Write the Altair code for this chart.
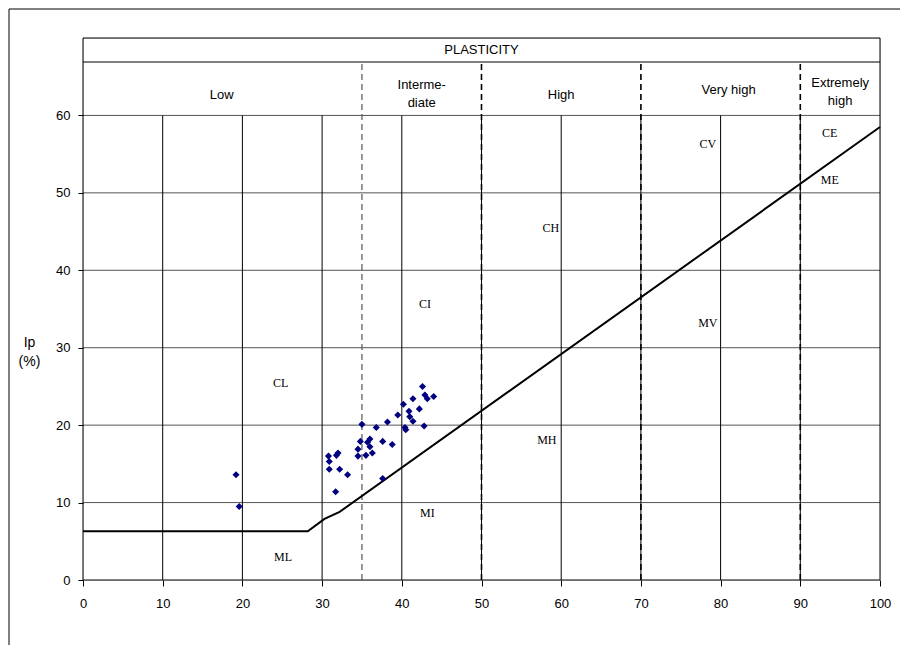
import altair as alt
import pandas as pd

# Scatter data: liquid limit wL (%) and plasticity index Ip (%)
wl = [42.6, 41.4, 42.9, 43.2, 44.0, 40.2, 42.2, 40.9, 39.5, 41.0, 41.4, 38.2,
      35.0, 36.8, 40.4, 40.5, 42.8, 36.0, 34.8, 37.6, 38.8, 35.7, 36.0, 34.5,
      36.3, 35.5, 34.5, 32.0, 30.8, 31.8, 30.9, 30.9, 32.2, 33.2, 37.6, 31.7,
      19.2, 19.6]
ip = [25.0, 23.4, 23.9, 23.4, 23.7, 22.7, 22.1, 21.8, 21.3, 21.1, 20.5, 20.4,
      20.1, 19.7, 19.7, 19.4, 19.9, 18.2, 17.9, 17.9, 17.5, 17.8, 17.2, 16.9,
      16.4, 16.1, 16.0, 16.4, 16.0, 16.1, 15.3, 14.3, 14.3, 13.6, 13.1, 11.4,
      13.6, 9.5]

# A-line
line_x = [0, 28.2, 30.3, 32.2, 100]
line_y = [6.3, 6.3, 7.9, 8.8, 58.5]

# Zone codes
zone_codes = ["CL", "CI", "CH", "CV", "CE", "ML", "MI", "MH", "MV", "ME"]
zone_x = [24.8, 42.9, 58.7, 78.4, 93.7, 25.1, 43.2, 58.2, 78.4, 93.7]
zone_y = [25.4, 35.7, 45.4, 56.3, 57.7, 3.0, 8.6, 18.1, 33.2, 51.6]

# Plasticity bands (header)
band_names = ["Low", "Interme-\ndiate", "High", "Very high", "Extremely\nhigh"]
band_x = [17.4, 42.5, 60.0, 81.0, 95.0]
band_y = [62.7, 63.9, 62.7, 63.3, 64.2]
header_title = ["PLASTICITY"]

# Grid / boundaries
grid_v_solid = [10, 20, 30, 40, 50, 60, 70, 80, 90]
grid_h = [10, 20, 30, 40, 50, 60]
bound_black = [50, 70, 90]
bound_gray = [35]

FONT = "Liberation Sans"
SERIF = "Liberation Serif"

xs = alt.Scale(domain=[0, 100], nice=False, zero=False)
ys = alt.Scale(domain=[0, 70], nice=False, zero=False)

pts = pd.DataFrame({"wL": wl, "Ip": ip})
line_df = pd.DataFrame({"wL": line_x, "Ip": line_y, "o": list(range(len(line_x)))})
zones = pd.DataFrame({"x": zone_x, "y": zone_y, "t": zone_codes})
bands = pd.DataFrame({"x": band_x, "y": band_y, "t": band_names})
vgrid = pd.DataFrame({"x": grid_v_solid, "y0": [0] * len(grid_v_solid), "y1": [60] * len(grid_v_solid)})
hgrid = pd.DataFrame({"y": grid_h, "x0": [0] * len(grid_h), "x1": [100] * len(grid_h)})
bb = pd.DataFrame({"x": bound_black, "y0": [0] * 3, "y1": [66.9] * 3})
bg = pd.DataFrame({"x": bound_gray, "y0": [0], "y1": [66.9]})
hlines = pd.DataFrame({"y": [0, 66.9, 70], "x0": [0, 0, 0], "x1": [100, 100, 100]})
vlines = pd.DataFrame({"x": [0, 100], "y0": [0, 0], "y1": [70, 70]})
title_df = pd.DataFrame({"x": [50], "y": [68.4], "t": header_title})

base_axes = alt.Chart(pts).mark_point(opacity=0).encode(
    x=alt.X("wL:Q", scale=xs,
            axis=alt.Axis(values=list(range(0, 101, 10)), title=None, grid=False,
                          domain=False, tickSize=6, tickColor="black",
                          labelPadding=11, labelFont=FONT, labelFontSize=13,
                          labelColor="black", labelFlush=False)),
    y=alt.Y("Ip:Q", scale=ys,
            axis=alt.Axis(values=list(range(0, 61, 10)), title=["Ip", "(%)"],
                          grid=False, domain=False, tickSize=5, tickColor="black",
                          labelPadding=8, labelFont=FONT, labelFontSize=13,
                          labelColor="black", labelFlush=False, titleAngle=0,
                          titleFont=FONT, titleFontSize=14,
                          titleFontWeight="normal", titleAlign="center",
                          titleBaseline="middle", titleX=-54, titleY=304,
                          titleColor="black", titleLineHeight=19)),
)

hg = alt.Chart(hgrid).mark_rule(color="#555555", strokeWidth=1).encode(
    x=alt.X("x0:Q", scale=xs), x2="x1:Q", y=alt.Y("y:Q", scale=ys))
vg = alt.Chart(vgrid).mark_rule(color="black", strokeWidth=1).encode(
    x=alt.X("x:Q", scale=xs), y=alt.Y("y0:Q", scale=ys), y2="y1:Q")
hb = alt.Chart(hlines).mark_rule(color="black", strokeWidth=1).encode(
    x=alt.X("x0:Q", scale=xs), x2="x1:Q", y=alt.Y("y:Q", scale=ys))
vb = alt.Chart(vlines).mark_rule(color="black", strokeWidth=1).encode(
    x=alt.X("x:Q", scale=xs), y=alt.Y("y0:Q", scale=ys), y2="y1:Q")
bbl = alt.Chart(bb).mark_rule(color="black", strokeWidth=1.6, strokeDash=[6, 4]).encode(
    x=alt.X("x:Q", scale=xs), y=alt.Y("y0:Q", scale=ys), y2="y1:Q")
bgl = alt.Chart(bg).mark_rule(color="#555555", strokeWidth=1.2, strokeDash=[6, 4]).encode(
    x=alt.X("x:Q", scale=xs), y=alt.Y("y0:Q", scale=ys), y2="y1:Q")

aline = alt.Chart(line_df).mark_line(color="black", strokeWidth=2).encode(
    x=alt.X("wL:Q", scale=xs), y=alt.Y("Ip:Q", scale=ys), order="o:Q")

scatter = alt.Chart(pts).mark_point(shape="diamond", filled=True, color="#000080",
                                    size=50, opacity=1).encode(
    x=alt.X("wL:Q", scale=xs), y=alt.Y("Ip:Q", scale=ys))

zone_txt = alt.Chart(zones).mark_text(font=SERIF, fontSize=12, color="black").encode(
    x=alt.X("x:Q", scale=xs), y=alt.Y("y:Q", scale=ys), text="t:N")

band_txt = alt.Chart(bands).mark_text(font=FONT, fontSize=13, color="black",
                                      lineBreak="\n", lineHeight=18).encode(
    x=alt.X("x:Q", scale=xs), y=alt.Y("y:Q", scale=ys), text="t:N")

title_txt = alt.Chart(title_df).mark_text(font=FONT, fontSize=13, color="black").encode(
    x=alt.X("x:Q", scale=xs), y=alt.Y("y:Q", scale=ys), text="t:N")

frame = alt.Chart(pd.DataFrame({"a": [0]})).mark_rect(
    fillOpacity=0, stroke="black", strokeWidth=1).encode(
    x=alt.value(-74), x2=alt.value(840), y=alt.value(-29), y2=alt.value(720))

chart = alt.layer(
    frame, base_axes, hg, vg, hb, vb, bgl, bbl, aline, scatter, zone_txt, band_txt, title_txt
).properties(
    width=797, height=542,
    autosize=alt.AutoSizeParams(type="none"),
    padding={"left": 75, "top": 30, "right": 20, "bottom": 65},
).configure_view(strokeWidth=0).configure(background="white")

chart.save("out.html", embed_options={"renderer": "svg", "actions": False})
